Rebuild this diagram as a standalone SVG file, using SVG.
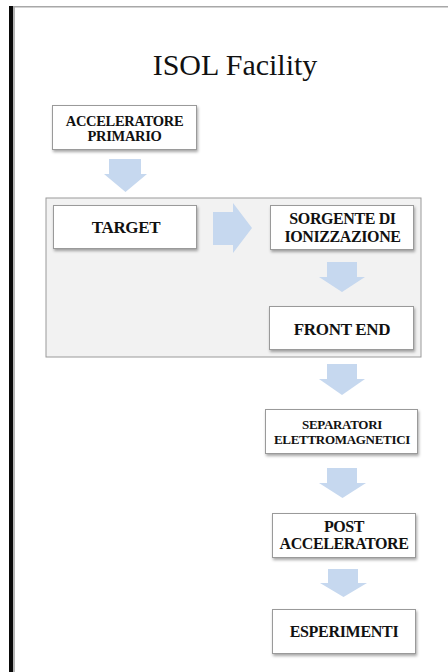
<svg xmlns="http://www.w3.org/2000/svg" width="448" height="672" viewBox="0 0 448 672">
<defs>
<filter id="sh" x="-10%" y="-10%" width="130%" height="140%">
<feDropShadow dx="1" dy="2" stdDeviation="1.5" flood-color="#000" flood-opacity="0.35"/>
</filter>
</defs>
<style>
.box{fill:#ffffff;stroke:#9a9a9a;stroke-width:1;filter:url(#sh)}
.arr{fill:#c6d8ef}
.t{font-family:"Liberation Serif","Times New Roman",serif;font-weight:bold;fill:#111;text-anchor:middle}
.title{font-family:"Liberation Serif","Times New Roman",serif;font-size:30px;fill:#111;text-anchor:middle}
</style>
<rect x="0" y="0" width="448" height="672" fill="#ffffff"/>
<rect x="9" y="6" width="4" height="666" fill="#0a0a0a"/>
<rect x="13" y="6" width="2" height="666" fill="#b5b5b5"/>
<rect x="13" y="6" width="435" height="1.5" fill="#a8a8a8"/>
<text class="title" x="235" y="75">ISOL Facility</text>

<g id="container">
<rect x="46" y="198" width="375" height="159" fill="#f2f2f2" stroke="#9a9a9a" stroke-width="1"/>
</g>

<g id="connectors">
<polygon class="arr" points="109,159 141,159 141,174 147,174 125.5,192 104,174 109,174"/>
<polygon class="arr" points="213,212 233,212 233,203 252,228 233,253 233,245 213,245"/>
<polygon class="arr" points="327,262 357,262 357,277 365,277 342,292 319,277 327,277"/>
<polygon class="arr" points="327,364 357,364 357,379 365,379 342,395 319,379 327,379"/>
<polygon class="arr" points="327,468 357,468 357,483 366,483 342.5,498 319,483 327,483"/>
<polygon class="arr" points="328,569 358,569 358,583 367,583 343.5,597 320,583 328,583"/>
</g>

<g id="n-acceleratore">
<rect class="box" x="52.5" y="105.5" width="144" height="44"/>
<text class="t" font-size="14.5" letter-spacing="-0.3" x="124.5" y="126">ACCELERATORE</text>
<text class="t" font-size="14.5" letter-spacing="-0.3" x="124.5" y="141">PRIMARIO</text>
</g>

<g id="n-target">
<rect class="box" x="53.5" y="205.5" width="143" height="43"/>
<text class="t" font-size="17" letter-spacing="-0.3" x="126" y="233">TARGET</text>
</g>

<g id="n-sorgente">
<rect class="box" x="270.5" y="205.5" width="143" height="44"/>
<text class="t" font-size="16" letter-spacing="-0.4" x="342.5" y="224">SORGENTE DI</text>
<text class="t" font-size="16" letter-spacing="-0.4" x="342.5" y="242">IONIZZAZIONE</text>
</g>

<g id="n-frontend">
<rect class="box" x="269.5" y="306.5" width="144" height="43"/>
<text class="t" font-size="17" letter-spacing="-0.3" x="342" y="335">FRONT END</text>
</g>

<g id="n-separatori">
<rect class="box" x="265.5" y="409.5" width="152" height="44"/>
<text class="t" font-size="13" letter-spacing="-0.3" x="342" y="429">SEPARATORI</text>
<text class="t" font-size="13" letter-spacing="-0.3" x="342" y="444">ELETTROMAGNETICI</text>
</g>

<g id="n-post">
<rect class="box" x="272.5" y="513.5" width="143" height="44"/>
<text class="t" font-size="16" letter-spacing="-0.4" x="344" y="532">POST</text>
<text class="t" font-size="16" letter-spacing="-0.4" x="344" y="549">ACCELERATORE</text>
</g>

<g id="n-esperimenti">
<rect class="box" x="272.5" y="609.5" width="143" height="44"/>
<text class="t" font-size="16" letter-spacing="-0.3" x="344" y="637">ESPERIMENTI</text>
</g>
</svg>
